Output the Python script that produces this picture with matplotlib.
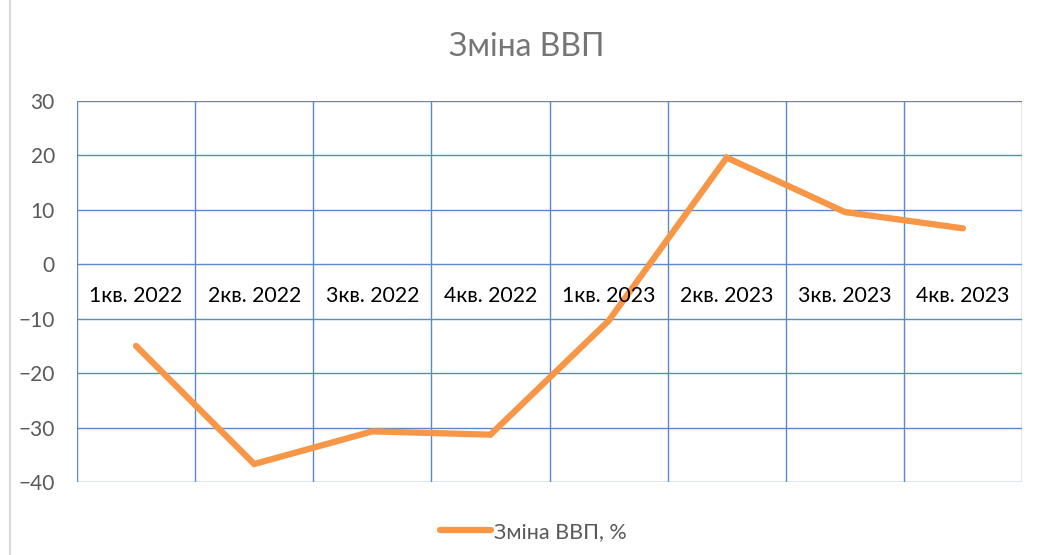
import matplotlib
matplotlib.use("Agg")
import matplotlib.pyplot as plt
from matplotlib.lines import Line2D

plt.rcParams['font.family'] = ['Lato', 'Open Sans', 'DejaVu Sans']

categories = ["1кв. 2022", "2кв. 2022", "3кв. 2022", "4кв. 2022",
              "1кв. 2023", "2кв. 2023", "3кв. 2023", "4кв. 2023"]
gdp_change = [-15.0, -36.7, -30.7, -31.3, -10.4, 19.6, 9.6, 6.6]
yticks = [-40, -30, -20, -10, 0, 10, 20, 30]
title = "Зміна ВВП"
series_label = "Зміна ВВП, %"

fig = plt.figure(figsize=(10.39, 5.55), dpi=100)
ax = fig.add_axes([77/1039, 1-482/555, (1022-77)/1039, (482-101)/555])

grid_color = '#5A8AC6'
x = list(range(len(categories)))
ax.plot(x, gdp_change, color='#F79646', lw=4.5, solid_capstyle='round',
        solid_joinstyle='miter', label=series_label, zorder=3)

ax.set_xlim(-0.5, len(categories) - 0.5)
ax.set_ylim(yticks[0], yticks[-1])
ax.set_yticks(yticks)
ax.set_xticks([])
for y in yticks:
    ax.axhline(y, color=grid_color, lw=1, zorder=1)
for b in range(len(categories) + 1):
    ax.axvline(b - 0.5, color=grid_color, lw=1, zorder=1)
for s in ax.spines.values():
    s.set_visible(False)
ax.tick_params(axis='y', length=0, pad=16, labelsize=15, labelcolor='#595959')

for i, c in enumerate(categories):
    ax.annotate(c, (i, 0), xytext=(0, -23), textcoords='offset points',
                ha='center', va='center', fontsize=15.3, color='black')

fig.text(527/1039, 1-47/555, title, ha='center', va='center', fontsize=23, color='#757575')

fig.legend(handles=[Line2D([0], [0], color='#F79646', lw=4.5, solid_capstyle='round')],
           labels=[series_label], loc='center', bbox_to_anchor=(533/1039, 1-532/555),
           frameon=False, fontsize=15.5, labelcolor='#595959', handlelength=2.4,
           handletextpad=0.1)

fig.add_artist(Line2D([10/1039, 10/1039], [0, 1], transform=fig.transFigure,
                      color='#D9D9D9', lw=1.5))

fig.savefig("out.png", dpi=100)
